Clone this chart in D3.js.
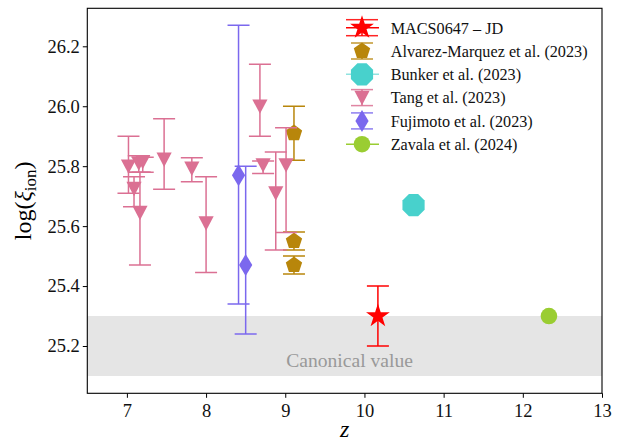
<!DOCTYPE html>
<html>
<head>
<meta charset="utf-8">
<script src="https://cdn.jsdelivr.net/npm/d3@7"></script>
<style>
  body { margin: 0; background: #fff; }
  svg { display: block; }
  text { font-family: "Liberation Serif", "DejaVu Serif", serif; }
</style>
</head>
<body>
<svg id="chart" width="625" height="442"></svg>
<script>
// ---------------- DATA ----------------
const macsZ = [10.17];
const macsY = [25.30];
const macsLo = [0.10];
const macsHi = [0.10];

const alvarezZ = [9.11, 9.11, 9.11];
const alvarezY = [25.91, 25.55, 25.47];
const alvarezLo = [0.09, 0.03, 0.03];
const alvarezHi = [0.09, 0.03, 0.03];

const bunkerZ = [10.62];
const bunkerY = [25.67];

const tangZ  = [7.02, 7.15, 7.20, 7.09, 7.165, 7.47, 7.82, 8.00, 8.68, 8.72, 8.88, 9.01];
const tangY  = [25.80, 25.81, 25.815, 25.725, 25.645, 25.823, 25.793, 25.61, 26.00, 25.804, 25.71, 25.804];
const tangLo = [0.09, 0.03, 0.035, 0.06, 0.175, 0.10, 0.045, 0.165, 0.10, 0.028, 0.19, 0.225];
const tangHi = [0.10, 0.025, 0.015, 0.04, 0.135, 0.135, 0.035, 0.155, 0.14, 0.013, 0.137, 0.124];

const fujimotoZ = [8.41, 8.50];
const fujimotoY = [25.77, 25.47];
const fujimotoLo = [0.43, 0.23];
const fujimotoHi = [0.50, 0.33];

const zavalaZ = [12.33];
const zavalaY = [25.30];

const canonicalBand = [25.1, 25.3];
const xTicks = [7, 8, 9, 10, 11, 12, 13];
const yTicks = [25.2, 25.4, 25.6, 25.8, 26.0, 26.2];
const legendLabels = ["MACS0647 \u2013 JD", "Alvarez-Marquez et al. (2023)", "Bunker et al. (2023)",
                      "Tang et al. (2023)", "Fujimoto et al. (2023)", "Zavala et al. (2024)"];

// ---------------- STYLE ----------------
const C = {
  macs: "#ff0000", alvarez: "#b8860b", bunker: "#48d1cc",
  tang: "#db7093", fujimoto: "#7b68ee", zavala: "#9acd32"
};

const W = 625, H = 442;
const L = 87.3, R = 602, T = 8.3, B = 393.3;

const svg = d3.select("#chart");
const x = d3.scaleLinear().domain([6.5, 13]).range([L, R]);
const y = d3.scaleLinear().domain([25.0422, 26.3268]).range([B, T]);

// marker shape generators (path strings centred at 0,0)
function poly(pts) { return "M" + pts.map(p => p[0].toFixed(2) + "," + p[1].toFixed(2)).join("L") + "Z"; }
function starPath(r) {
  const pts = [];
  for (let i = 0; i < 10; i++) {
    const a = (-90 + i * 36) * Math.PI / 180;
    const rr = i % 2 === 0 ? r : r * 0.382;
    pts.push([rr * Math.cos(a), rr * Math.sin(a)]);
  }
  return poly(pts);
}
function regPath(n, r, startDeg) {
  const pts = [];
  for (let i = 0; i < n; i++) {
    const a = (startDeg + i * 360 / n) * Math.PI / 180;
    pts.push([r * Math.cos(a), r * Math.sin(a)]);
  }
  return poly(pts);
}
const shapes = {
  macs: starPath(12.5),
  alvarez: regPath(5, 8.6, -90),
  bunker: regPath(8, 12, 22.5),
  tang: poly([[-7.6, -6.8], [7.6, -6.8], [0, 7.6]]),
  fujimoto: poly([[0, -11], [6.6, 0], [0, 11], [-6.6, 0]]),
  zavala: null
};

svg.append("defs").append("clipPath").attr("id", "plotclip")
  .append("rect").attr("x", L).attr("y", T).attr("width", R - L).attr("height", B - T);

const plot = svg.append("g").attr("clip-path", "url(#plotclip)");

// canonical band
plot.append("rect")
  .attr("x", L).attr("width", R - L)
  .attr("y", y(canonicalBand[1])).attr("height", y(canonicalBand[0]) - y(canonicalBand[1]))
  .attr("fill", "#e5e5e5");

plot.append("text")
  .attr("x", x(9.812)).attr("y", y(25.13))
  .attr("text-anchor", "middle")
  .attr("font-size", 19.6)
  .attr("fill", "#999999")
  .text("Canonical value");

// error bars + markers
function series(zs, ys, lo, hi, key) {
  const g = plot.append("g");
  const col = C[key];
  const cap = 11;
  if (lo) {
    zs.forEach((z, i) => {
      const cx = x(z), y1 = y(ys[i] + hi[i]), y0 = y(ys[i] - lo[i]);
      g.append("line").attr("x1", cx).attr("x2", cx).attr("y1", y1).attr("y2", y0)
        .attr("stroke", col).attr("stroke-width", 1.5);
      [y1, y0].forEach(yy => g.append("line").attr("x1", cx - cap).attr("x2", cx + cap)
        .attr("y1", yy).attr("y2", yy).attr("stroke", col).attr("stroke-width", 1.5));
    });
  }
  zs.forEach((z, i) => {
    if (shapes[key]) {
      g.append("path").attr("d", shapes[key])
        .attr("transform", `translate(${x(z)},${y(ys[i])})`)
        .attr("fill", col);
    } else {
      g.append("circle").attr("cx", x(z)).attr("cy", y(ys[i])).attr("r", 8.3).attr("fill", col);
    }
  });
}
series(macsZ, macsY, macsLo, macsHi, "macs");
series(alvarezZ, alvarezY, alvarezLo, alvarezHi, "alvarez");
series(bunkerZ, bunkerY, null, null, "bunker");
series(tangZ, tangY, tangLo, tangHi, "tang");
series(fujimotoZ, fujimotoY, fujimotoLo, fujimotoHi, "fujimoto");
series(zavalaZ, zavalaY, null, null, "zavala");

// axes
const xAxis = svg.append("g").attr("transform", `translate(0,${B})`)
  .call(d3.axisBottom(x).tickValues(xTicks).tickSize(4.5).tickPadding(6).tickFormat(d3.format("d")));
const yAxis = svg.append("g").attr("transform", `translate(${L},0)`)
  .call(d3.axisLeft(y).tickValues(yTicks).tickSize(4.5).tickPadding(3).tickFormat(d3.format(".1f")));
[xAxis, yAxis].forEach(a => {
  a.select(".domain").remove();
  a.selectAll("line").attr("stroke", "#000").attr("stroke-width", 1);
  a.selectAll("text").attr("font-family", "Liberation Serif").attr("font-size", 18.5).attr("fill", "#111");
});
// frame
svg.append("rect").attr("x", L).attr("y", T).attr("width", R - L).attr("height", B - T)
  .attr("fill", "none").attr("stroke", "#000").attr("stroke-width", 1.1);

// axis labels
svg.append("text").attr("x", (L + R) / 2).attr("y", 437)
  .attr("text-anchor", "middle").attr("font-size", 24).attr("font-style", "italic").text("z");

const yl = svg.append("text")
  .attr("transform", `translate(31,${(T + B) / 2}) rotate(-90)`)
  .attr("text-anchor", "middle").attr("font-size", 24);
yl.append("tspan").text("log(");
yl.append("tspan").attr("font-style", "italic").text("\u03BE");
yl.append("tspan").attr("font-size", 17).attr("dy", 5).text("ion");
yl.append("tspan").attr("dy", -5).text(")");

// legend
const keys = ["macs", "alvarez", "bunker", "tang", "fujimoto", "zavala"];
const hasErr = { macs: true, alvarez: true, bunker: false, tang: true, fujimoto: true, zavala: false };
const hasLine = { macs: true, alvarez: false, bunker: true, tang: false, fujimoto: false, zavala: true };
const lg = svg.append("g");
keys.forEach((k, i) => {
  const cy = 27.7 + 23.3 * i, cx = 362;
  const col = C[k];
  const g = lg.append("g");
  if (hasLine[k]) {
    g.append("line").attr("x1", 346).attr("x2", 379).attr("y1", cy).attr("y2", cy)
      .attr("stroke", col).attr("stroke-width", 1.5).attr("opacity", k === "bunker" ? 0.6 : 1);
  }
  if (hasErr[k]) {
    const hw = k === "macs" ? 16 : 11;
    g.append("line").attr("x1", cx).attr("x2", cx).attr("y1", cy - 8).attr("y2", cy + 8)
      .attr("stroke", col).attr("stroke-width", 1.5);
    [cy - 8, cy + 8].forEach(yy => g.append("line").attr("x1", cx - hw).attr("x2", cx + hw)
      .attr("y1", yy).attr("y2", yy).attr("stroke", col).attr("stroke-width", 1.5).attr("opacity", 0.85));
  }
  if (shapes[k]) {
    g.append("path").attr("d", shapes[k]).attr("transform", `translate(${cx},${cy})`).attr("fill", col);
  } else {
    g.append("circle").attr("cx", cx).attr("cy", cy).attr("r", 8.3).attr("fill", col);
  }
  g.append("text").attr("x", 390.7).attr("y", cy + 5.8).attr("font-size", 16.2).attr("fill", "#111")
    .text(legendLabels[i]);
});
</script>
</body>
</html>
